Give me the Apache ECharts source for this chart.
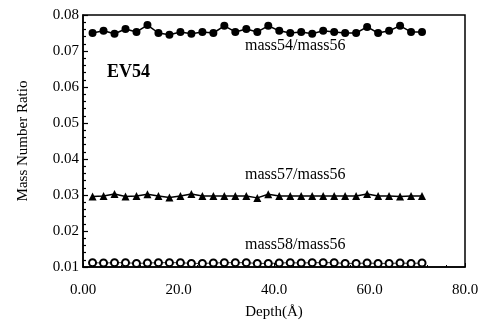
<!DOCTYPE html>
<html>
<head>
<meta charset="utf-8">
<script src="https://cdn.jsdelivr.net/npm/echarts@6/dist/echarts.min.js"></script>
<style>
html,body{margin:0;padding:0;background:#fff;}
#c{width:490px;height:325px;}
</style>
</head>
<body>
<div id="c"></div>
<script>
const depth = [2.0, 4.3, 6.6, 8.9, 11.2, 13.5, 15.8, 18.1, 20.4, 22.7, 25.0, 27.3, 29.6, 31.9, 34.2, 36.5, 38.8, 41.1, 43.4, 45.7, 48.0, 50.3, 52.6, 54.9, 57.2, 59.5, 61.8, 64.1, 66.4, 68.7, 71.0];
const mass54 = [0.0750, 0.0756, 0.0748, 0.0761, 0.0753, 0.0772, 0.0750, 0.0745, 0.0753, 0.0748, 0.0753, 0.0750, 0.0770, 0.0753, 0.0761, 0.0753, 0.0770, 0.0756, 0.0750, 0.0753, 0.0748, 0.0756, 0.0753, 0.0750, 0.0750, 0.0767, 0.0750, 0.0756, 0.0770, 0.0753, 0.0753];
const mass57 = [0.0296, 0.0297, 0.0303, 0.0296, 0.0297, 0.0302, 0.0297, 0.0293, 0.0297, 0.0303, 0.0297, 0.0297, 0.0297, 0.0297, 0.0297, 0.0292, 0.0302, 0.0297, 0.0297, 0.0297, 0.0297, 0.0297, 0.0297, 0.0297, 0.0297, 0.0303, 0.0297, 0.0297, 0.0296, 0.0297, 0.0297];
const mass58 = [0.0112, 0.0111, 0.0112, 0.0112, 0.0110, 0.0111, 0.0112, 0.0112, 0.0112, 0.0110, 0.0110, 0.0111, 0.0112, 0.0112, 0.0112, 0.0110, 0.0110, 0.0111, 0.0112, 0.0111, 0.0112, 0.0112, 0.0112, 0.0110, 0.0110, 0.0111, 0.0110, 0.0110, 0.0111, 0.0110, 0.0111];
const seriesNames = ['mass54/mass56', 'mass57/mass56', 'mass58/mass56'];
const xTicks = [0, 20, 40, 60, 80];

const serif = '"Liberation Serif", "DejaVu Serif", serif';
const pair = arr => depth.map((d, i) => [d, arr[i]]);

const chart = echarts.init(document.getElementById('c'), null, {renderer: 'canvas'});
chart.setOption({
  animation: false,
  backgroundColor: '#fff',
  grid: {left: 83, right: 25, top: 15, bottom: 56, show: true, borderColor: '#000', borderWidth: 1.5},
  xAxis: {
    type: 'value', min: 0, max: 80, interval: 20,
    name: 'Depth(Å)', nameLocation: 'middle', nameGap: 38,
    nameTextStyle: {fontFamily: serif, fontSize: 15, color: '#000'},
    axisLine: {show: true, onZero: false, lineStyle: {color: '#000', width: 1.5}},
    axisTick: {show: true, inside: true, length: 4, lineStyle: {color: '#000'}},
    minorTick: {show: true, splitNumber: 5, length: 2, lineStyle: {color: '#000'}},
    splitLine: {show: false},
    axisLabel: {fontFamily: serif, fontSize: 15, color: '#000', margin: 16,
      formatter: v => (v === 0 ? '0.00' : v.toFixed(1))}
  },
  yAxis: {
    type: 'value', min: 0.01, max: 0.08, interval: 0.01,
    name: 'Mass Number Ratio', nameLocation: 'middle', nameGap: 52, nameRotate: 90,
    nameTextStyle: {fontFamily: serif, fontSize: 15, color: '#000'},
    axisLine: {show: true, lineStyle: {color: '#000', width: 1.5}},
    axisTick: {show: true, inside: true, length: 5, lineStyle: {color: '#000', width: 1.2}},
    minorTick: {show: true, splitNumber: 5, length: 3, lineStyle: {color: '#000', width: 1.2}},
    splitLine: {show: false},
    axisLabel: {fontFamily: serif, fontSize: 15, color: '#000', margin: 4,
      formatter: v => v.toFixed(2)}
  },
  series: [
    {name: seriesNames[0], type: 'line', data: pair(mass54), symbol: 'circle', symbolSize: 8,
      itemStyle: {color: '#000'}, lineStyle: {color: '#000', width: 1.5}},
    {name: seriesNames[1], type: 'line', data: pair(mass57), symbol: 'triangle', symbolSize: 8,
      itemStyle: {color: '#000'}, lineStyle: {color: '#000', width: 1.5}},
    {name: seriesNames[2], type: 'line', data: pair(mass58), symbol: 'circle', symbolSize: 7,
      showSymbol: true,
      itemStyle: {color: '#fff', borderColor: '#000', borderWidth: 2}, lineStyle: {color: '#000', width: 0.8}}
  ],
  graphic: [
    {type: 'text', left: 107, top: 63, style: {text: 'EV54', font: 'bold 18px ' + serif, fill: '#000'}},
    {type: 'text', left: 245, top: 38, style: {text: seriesNames[0], font: '16px ' + serif, fill: '#000'}},
    {type: 'text', left: 245, top: 167, style: {text: seriesNames[1], font: '16px ' + serif, fill: '#000'}},
    {type: 'text', left: 245, top: 237, style: {text: seriesNames[2], font: '16px ' + serif, fill: '#000'}}
  ]
});
</script>
</body>
</html>
